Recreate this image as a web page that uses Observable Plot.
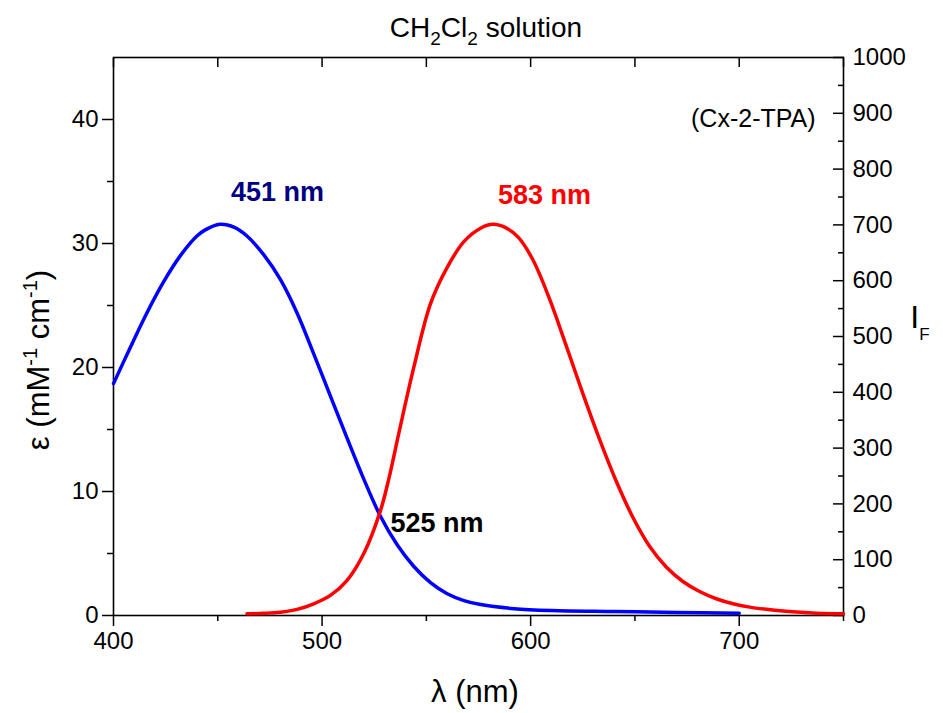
<!DOCTYPE html>
<html>
<head>
<meta charset="utf-8">
<script src="https://cdn.jsdelivr.net/npm/d3@7"></script>
<script src="https://cdn.jsdelivr.net/npm/@observablehq/plot@0.6"></script>
<style>
  html, body { margin: 0; padding: 0; background: white; }
  svg { display: block; }
</style>
</head>
<body>
<div id="chart"></div>
<script>
// Absorption (left axis, ε in mM^-1 cm^-1)
const absNm  = [400, 408, 416, 424, 432, 440, 444, 451, 458, 464, 472, 480, 488, 496, 504, 512, 520, 528, 536, 544, 552, 560, 568, 576, 592, 610, 640, 670, 700];
const absEps = [18.7, 21.6, 24.4, 26.9, 29.0, 30.6, 31.1, 31.55, 31.3, 30.6, 29.1, 27.1, 24.4, 21.1, 17.7, 14.3, 11.0, 8.0, 5.7, 3.95, 2.65, 1.75, 1.2, 0.88, 0.55, 0.4, 0.32, 0.25, 0.19];

// Emission (right axis, I_F)
const emNm = [464, 472, 480, 488, 496, 504, 512, 520, 528, 532, 537, 544, 552, 560, 568, 576, 582, 588, 594, 601, 609, 617, 625, 633, 641, 649, 657, 665, 673, 681, 689, 697, 705, 713, 721, 737, 750];
const emIF = [3, 4, 6, 11, 21, 36, 63, 111, 188, 245, 330, 445, 559, 624, 670, 694, 701, 695, 678, 638, 568, 484, 398, 316, 241, 176, 124, 87, 61, 43, 30, 21, 15, 11, 8, 4, 3];

// Axis ranges and ticks
const xDomain = [400, 750];
const epsDomain = [0, 45];
const ifMax = 1000;
const xMajor = [400, 500, 600, 700];
const xMinor = [450, 550, 650, 750];
const epsMajor = [0, 10, 20, 30, 40];
const epsMinor = [5, 15, 25, 35];
const ifMajor = [0, 100, 200, 300, 400, 500, 600, 700, 800, 900, 1000];
const ifMinor = [50, 150, 250, 350, 450, 550, 650, 750, 850, 950];

// Annotations (data coordinates: nm, ε)
const peakLabels = [
  {text: "451 nm", nm: 478.6, eps: 33.45, color: "#000080"},
  {text: "583 nm", nm: 606.6, eps: 33.2, color: "#ff0000"}
];
const crossLabel = [{text: "525 nm", nm: 532.8, eps: 6.75, color: "#000000"}];
const compoundLabel = [{text: "(Cx-2-TPA)", nm: 736.6, eps: 39.4}];

const k = ifMax / epsDomain[1]; // IF per ε unit
const absData = absNm.map((d, i) => ({nm: d, v: absEps[i]}));
const emData = emNm.map((d, i) => ({nm: d, v: emIF[i] / k}));

const FONT = "'Liberation Sans', Arial, Helvetica, sans-serif";

const plot = Plot.plot({
  width: 943,
  height: 713,
  marginLeft: 113,
  marginRight: 100,
  marginTop: 57,
  marginBottom: 98,
  style: {fontFamily: FONT, fontSize: "24px", color: "black", background: "white"},
  x: {domain: xDomain},
  y: {domain: epsDomain},
  marks: [
    // bottom axis
    Plot.axisX({anchor: "bottom", ticks: xMajor, tickSize: 11, tickPadding: 5, label: null, tickFormat: d => String(d), fontSize: 24, strokeWidth: 1.5}),
    Plot.axisX({anchor: "bottom", ticks: xMinor, tickSize: 6, text: null, label: null, strokeWidth: 1.5}),
    // top axis (inward ticks)
    Plot.axisX({anchor: "top", ticks: xMajor.concat(xMinor), tickSize: 9, dy: 9, text: null, label: null, strokeWidth: 1.5}),
    // left axis
    Plot.axisY({anchor: "left", ticks: epsMajor, tickSize: 11, tickPadding: 4, label: null, fontSize: 24, strokeWidth: 1.5}),
    Plot.axisY({anchor: "left", ticks: epsMinor, tickSize: 6, text: null, label: null, strokeWidth: 1.5}),
    // right axis (inward ticks, labels outside)
    Plot.axisY({anchor: "right", ticks: ifMajor.map(v => v / k), tickSize: 11, dx: -11, text: null, label: null, strokeWidth: 1.5}),
    Plot.axisY({anchor: "right", ticks: ifMinor.map(v => v / k), tickSize: 6, dx: -6, text: null, label: null, strokeWidth: 1.5}),
    Plot.axisY({anchor: "right", ticks: ifMajor.map(v => v / k), tickSize: 0, tickPadding: 9, label: null, fontSize: 24,
      tickFormat: v => String(Math.round(v * k))}),
    Plot.frame({stroke: "black", strokeWidth: 1.6}),
    Plot.line(absData, {x: "nm", y: "v", stroke: "#0000ff", strokeWidth: 3.5, curve: "catmull-rom"}),
    Plot.line(emData, {x: "nm", y: "v", stroke: "#ff0000", strokeWidth: 3.5, curve: "catmull-rom"}),
    Plot.text(peakLabels, {x: "nm", y: "eps", text: "text", fill: d => d.color, textAnchor: "middle",
      lineAnchor: "bottom", fontSize: 27, fontWeight: "bold"}),
    Plot.text(crossLabel, {x: "nm", y: "eps", text: "text", fill: d => d.color,
      textAnchor: "start", lineAnchor: "bottom", fontSize: 27, fontWeight: "bold"}),
    Plot.text(compoundLabel, {x: "nm", y: "eps", text: "text", textAnchor: "end", lineAnchor: "bottom", fontSize: 25, fill: "black"})
  ]
});

document.getElementById("chart").appendChild(plot);

// Titles with sub/superscripts
const svg = d3.select(plot);
const g = svg.append("g").attr("font-family", FONT).attr("fill", "black");

// Title
const t = g.append("text").attr("x", 486).attr("y", 37).attr("text-anchor", "middle").attr("font-size", 28);
t.append("tspan").text("CH");
t.append("tspan").attr("font-size", 19).attr("dy", 8).text("2");
t.append("tspan").attr("dy", -8).text("Cl");
t.append("tspan").attr("font-size", 19).attr("dy", 8).text("2");
t.append("tspan").attr("dy", -8).text(" solution");

// x label
g.append("text").attr("x", 475).attr("y", 702).attr("text-anchor", "middle").attr("font-size", 31).text("λ (nm)");

// left y label
const yl = g.append("text").attr("transform", "translate(49,360) rotate(-90)").attr("text-anchor", "middle").attr("font-size", 31);
yl.append("tspan").text("ε (mM");
yl.append("tspan").attr("font-size", 20).attr("dy", -12).text("-1");
yl.append("tspan").attr("dy", 12).text(" cm");
yl.append("tspan").attr("font-size", 20).attr("dy", -12).text("-1");
yl.append("tspan").attr("dy", 12).text(")");

// right y label
const yr = g.append("text").attr("x", 920).attr("y", 328).attr("font-size", 32);
yr.append("tspan").text("I");
yr.append("tspan").attr("font-size", 17).attr("dy", 12).text("F");
</script>
</body>
</html>
